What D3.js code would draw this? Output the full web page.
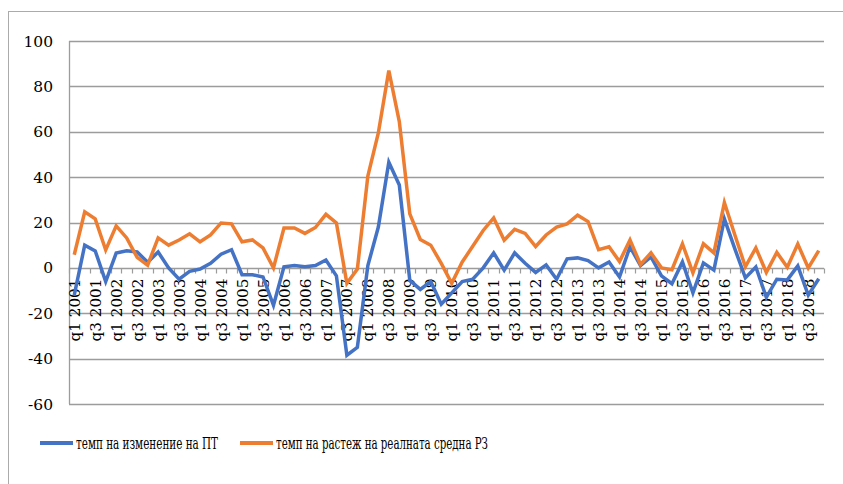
<!DOCTYPE html>
<html>
<head>
<meta charset="utf-8">
<script src="https://cdnjs.cloudflare.com/ajax/libs/d3/7.8.5/d3.min.js"></script>
<style>
body { margin: 0; background: #fff; }
</style>
</head>
<body>
<svg id="chart" width="843" height="484"></svg>
<script>
// quarters q1 2001 .. q4 2018
var years = d3.range(2001, 2019);
var quarters = [];
years.forEach(function(yr) {
  [1, 2, 3, 4].forEach(function(q) { quarters.push("q" + q + " " + yr); });
});

var seriesNames = ["темп на изменение на ПТ", "темп на растеж на реалната средна РЗ"];

var productivity = [
  -12, 10, 7.5, -6, 6.5, 7.5, 7, 2.5,
  7, 0, -5, -1.5, -0.5, 2, 6, 8,
  -3, -3, -4, -16.5, 0.5, 1, 0.5, 1,
  3.5, -3.5, -38.5, -35, 1, 18, 46.6, 36.5,
  -5.5, -9.5, -6, -16, -11, -6, -5, 0,
  6.6, -1, 6.6, 2, -2, 1.3, -5, 4,
  4.4, 3.2, 0, 2.6, -4, 9.3, 1, 4.8,
  -3.5, -7, 2.6, -11, 2.2, -1, 21.6, 8.4,
  -4.4, 0.4, -13, -5, -5.3, 0.9, -12, -4.8
];

var wages = [
  5.8, 24.7, 21.6, 7.9, 18.5, 13.2, 4.6, 1.2,
  13.2, 10, 12.3, 15, 11.5, 14.5, 19.8, 19.4,
  11.5, 12.3, 8.8, 0, 17.6, 17.6, 15.2, 17.8,
  23.6, 19.8, -6.8, -0.5, 40.5, 59.5, 87, 64.5,
  23.8, 12.5, 10, 2, -6.8, 2.6, 9.5, 16.5,
  22, 12.2, 17, 15.2, 9.4, 14.5, 18, 19.4,
  23.2, 20.4, 8, 9.3, 2.8, 12.3, 1.5, 6.6,
  0, -0.8, 10.6, -2.2, 10.6, 6.6, 28.8, 14.5,
  0.5, 8.8, -2, 6.8, 0.3, 10.5, 0, 7.6
];

var yTicks = [100, 80, 60, 40, 20, 0, -20, -40, -60];
var colors = ["#4472c4", "#ed7d31"];
var fontStack = "'DejaVu Serif', serif";

var svg = d3.select("#chart");

var plotLeft = 69, plotRight = 824, plotTop = 41, plotBottom = 404;

var x = d3.scaleBand().domain(d3.range(quarters.length)).range([plotLeft, plotRight]);
var y = d3.scaleLinear().domain([-60, 100]).range([plotBottom, plotTop]);

// outer frame
svg.append("rect")
  .attr("x", 8.5).attr("y", 11.5)
  .attr("width", 860).attr("height", 500)
  .attr("fill", "none").attr("stroke", "#ababab").attr("stroke-width", 1);

// gridlines
svg.append("g")
  .selectAll("line")
  .data(yTicks)
  .enter()
  .append("line")
    .attr("x1", plotLeft).attr("x2", plotRight)
    .attr("y1", function(d) { return Math.round(y(d)) + 0.5; })
    .attr("y2", function(d) { return Math.round(y(d)) + 0.5; })
    .attr("stroke", "#9c9c9c").attr("stroke-width", 1.3);

// y axis line
svg.append("line")
  .attr("x1", plotLeft + 0.5).attr("x2", plotLeft + 0.5)
  .attr("y1", plotTop).attr("y2", plotBottom)
  .attr("stroke", "#9c9c9c").attr("stroke-width", 1.3);

// y labels
svg.append("g")
  .selectAll("text")
  .data(yTicks)
  .enter()
  .append("text")
    .attr("x", 53)
    .attr("y", function(d) { return y(d); })
    .attr("dy", "0.36em")
    .attr("text-anchor", "end")
    .style("font-family", fontStack)
    .style("font-size", "15.5px")
    .text(function(d) { return d; });

// ticks on zero line
var y0 = Math.round(y(0)) + 0.5;
var boundaries = d3.range(quarters.length + 1).map(function(i) {
  return i < quarters.length ? x(i) : plotRight;
});
svg.append("g")
  .selectAll("line")
  .data(boundaries)
  .enter()
  .append("line")
    .attr("x1", function(d) { return Math.round(d) + 0.5; })
    .attr("x2", function(d) { return Math.round(d) + 0.5; })
    .attr("y1", y0).attr("y2", y0 + 5)
    .attr("stroke", "#9c9c9c").attr("stroke-width", 1.2);

// category labels (every second quarter)
svg.append("g")
  .selectAll("text")
  .data(quarters.filter(function(d, i) { return i % 2 === 0; }))
  .enter()
  .append("text")
    .attr("transform", function(d, i) {
      var cx = x(i * 2) + x.bandwidth() / 2;
      return "translate(" + cx + "," + (y0 + 10) + ") rotate(-90)";
    })
    .attr("text-anchor", "end")
    .attr("dy", "0.36em")
    .attr("textLength", 63)
    .attr("lengthAdjust", "spacingAndGlyphs")
    .style("font-family", fontStack)
    .style("font-size", "15.5px")
    .text(function(d) { return d; });

// lines
var line = d3.line()
  .x(function(d, i) { return x(i) + x.bandwidth() / 2; })
  .y(function(d) { return y(d); });

[productivity, wages].forEach(function(s, k) {
  svg.append("path")
    .datum(s)
    .attr("d", line)
    .attr("fill", "none")
    .attr("stroke", colors[k])
    .attr("stroke-width", 3.5)
    .attr("stroke-linejoin", "miter");
});

// legend
var legendX = [40, 240];
var legendW = [142, 212];
var legend = svg.append("g")
  .selectAll("g")
  .data(seriesNames)
  .enter()
  .append("g")
    .attr("transform", function(d, i) { return "translate(" + legendX[i] + ",443)"; });
legend.append("line")
  .attr("x1", 0).attr("x2", 33).attr("y1", 0).attr("y2", 0)
  .attr("stroke", function(d, i) { return colors[i]; })
  .attr("stroke-width", 4);
legend.append("text")
  .attr("x", 36).attr("dy", "0.36em")
  .attr("textLength", function(d, i) { return legendW[i]; })
  .attr("lengthAdjust", "spacingAndGlyphs")
  .style("font-family", fontStack)
  .style("font-size", "16px")
  .text(function(d) { return d; });
</script>
</body>
</html>
